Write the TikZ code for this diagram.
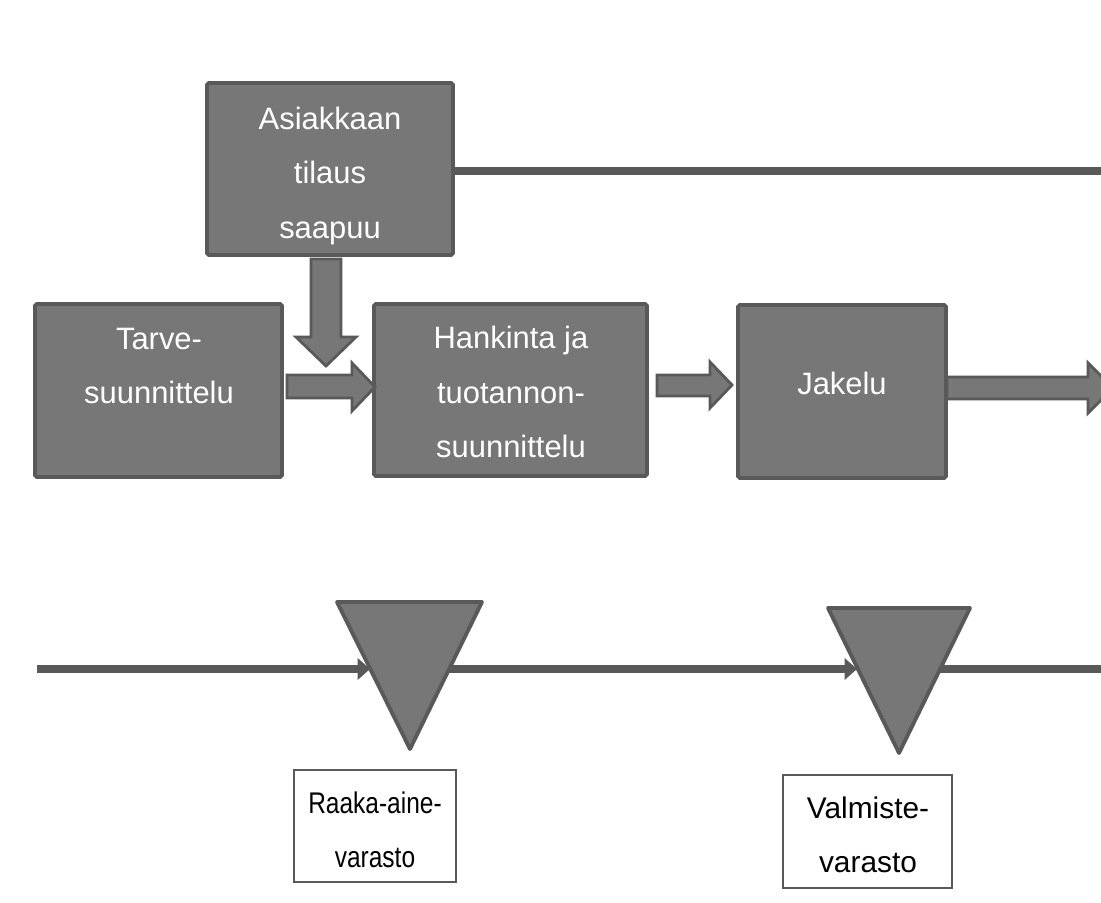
\documentclass[tikz,border=0pt]{standalone}
\usepackage{fontspec}
\setmainfont{Liberation Sans}
\newfontfamily\narrowsans[FakeStretch=0.82]{Liberation Sans}
\usetikzlibrary{arrows.meta,fit}
\definecolor{boxfill}{HTML}{777777}
\definecolor{boxline}{HTML}{595959}
\begin{document}
\begin{tikzpicture}[x=0.02cm,y=-0.02cm,
 proc/.style={draw=boxline, fill=boxfill, line width=2.2pt, rounded corners=1pt, inner sep=0pt},
 ptext/.style={text=white, font=\fontsize{17.6}{31.2}\selectfont, align=center, inner sep=0pt},
 store/.style={draw=black!65, fill=white, line width=0.8pt, inner sep=0pt},
 stext/.style={text=black, font=\fontsize{17}{31}\selectfont, align=center, inner sep=0pt},
 blockarrow/.style={draw=boxline, fill=boxfill, line width=1.6pt, line join=miter},
 flow/.style={draw=boxline, line width=4.5pt},
 flowarrow/.style={flow, -{Triangle[length=7pt,width=12pt]}},
 tri/.style={draw=boxline, fill=boxfill, line width=2.2pt, line join=round}
]
\useasboundingbox (0,0) rectangle (1101,902);

% process boxes
\node[proc, fit={(207,83) (453,255)}] (asiakas) {};
\node[proc, fit={(35,304) (282,477)}] (tarve) {};
\node[proc, fit={(374,304) (647,476)}] (hankinta) {};
\node[proc, fit={(738,305) (946,478)}] (jakelu) {};

\node[ptext] (asiakastext) at (330,176) {Asiakkaan\\tilaus\\saapuu};
\node[ptext] (tarvetext) at (159,366) {Tarve-\\suunnittelu};
\node[ptext] (hankintatext) at (511,392) {Hankinta ja\\tuotannon-\\suunnittelu};
\node[ptext] (jakelutext) at (842,383) {Jakelu};

% top line to the right
\coordinate (topend) at (1115,171);
\draw[flow] (asiakas.east |- topend) -- (topend);

% block arrows
\draw[blockarrow] (311,259) -- (341,259) -- (341,337) -- (356,337) -- (326,366) -- (296,337) -- (311,337) -- cycle;
\draw[blockarrow] (287,375) -- (352,375) -- (352,363) -- (375,387) -- (352,411) -- (352,398) -- (287,398) -- cycle;
\draw[blockarrow] (657,375) -- (710,375) -- (710,362) -- (732,385) -- (710,408) -- (710,396) -- (657,396) -- cycle;
\draw[blockarrow] (947,377) -- (1088,377) -- (1088,363) -- (1113,388) -- (1088,413) -- (1088,399) -- (947,399) -- cycle;

% material flow
\coordinate (start) at (37,669);
\coordinate (t1in) at (370,669);
\coordinate (t1out) at (446,669);
\coordinate (t2in) at (857,669);
\coordinate (t2out) at (938,669);
\coordinate (end) at (1115,669);
\draw[flowarrow] (start) -- (t1in);
\draw[flowarrow] (t1out) -- (t2in);
\draw[flow] (t2out) -- (end);

% storage triangles
\draw[tri] (337,602) -- (482,602) -- (410,749) -- cycle;
\draw[tri] (828,608) -- (970,608) -- (899,753) -- cycle;

% storage labels
\node[store, fit={(294,770) (456,882)}] (raaka) {};
\node[store, fit={(783,775) (952,888)}] (valmiste) {};
\node[stext, font=\narrowsans\fontsize{17}{31}\selectfont] (raakatext) at (375,830) {Raaka-aine-\\varasto};
\node[stext] (valmistetext) at (868,835) {Valmiste-\\varasto};
\end{tikzpicture}
\end{document}
